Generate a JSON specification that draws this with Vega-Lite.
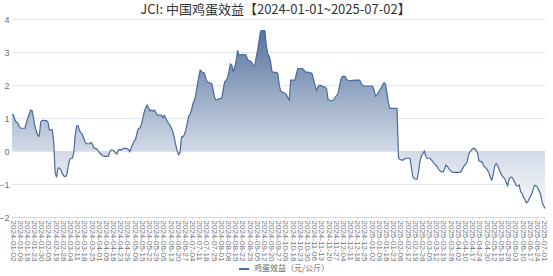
{
"$schema": "https://vega.github.io/schema/vega-lite/v6.json",
"width": 533, "height": 198,
"autosize": "none",
"padding": {"left": 12, "top": 19, "right": 8, "bottom": 59},
"background": "white",
"title": {"text": "JCI: 中国鸡蛋效益【2024-01-01~2025-07-02】", "font": "Noto Sans CJK SC", "fontSize": 13, "fontWeight": "normal", "color": "#333333", "anchor": "middle", "offset": -15, "baseline": "bottom", "dx": -3},
"config": {"view": {"stroke": null}},
"data": {"values": [
{"d":"2024-01-02","v":1.10},{"d":"2024-01-03","v":1.09},{"d":"2024-01-04","v":0.95},{"d":"2024-01-05","v":0.88},{"d":"2024-01-08","v":0.85},
{"d":"2024-01-09","v":0.75},{"d":"2024-01-10","v":0.69},{"d":"2024-01-11","v":0.69},{"d":"2024-01-12","v":0.69},{"d":"2024-01-15","v":0.69},
{"d":"2024-01-16","v":0.85},{"d":"2024-01-17","v":1.00},{"d":"2024-01-18","v":1.12},{"d":"2024-01-19","v":1.24},{"d":"2024-01-22","v":1.22},
{"d":"2024-01-23","v":0.98},{"d":"2024-01-24","v":0.74},{"d":"2024-01-25","v":0.60},{"d":"2024-01-26","v":0.47},{"d":"2024-01-29","v":0.45},
{"d":"2024-01-30","v":0.88},{"d":"2024-01-31","v":0.93},{"d":"2024-02-01","v":0.93},{"d":"2024-02-02","v":0.92},{"d":"2024-02-04","v":0.92},
{"d":"2024-02-05","v":0.88},{"d":"2024-02-06","v":0.64},{"d":"2024-02-07","v":0.64},{"d":"2024-02-08","v":0.64},{"d":"2024-02-18","v":0.30},
{"d":"2024-02-19","v":-0.65},{"d":"2024-02-20","v":-0.80},{"d":"2024-02-21","v":-0.52},{"d":"2024-02-22","v":-0.52},{"d":"2024-02-23","v":-0.57},
{"d":"2024-02-26","v":-0.68},{"d":"2024-02-27","v":-0.75},{"d":"2024-02-28","v":-0.78},{"d":"2024-02-29","v":-0.74},{"d":"2024-03-01","v":-0.50},
{"d":"2024-03-04","v":-0.28},{"d":"2024-03-05","v":-0.22},{"d":"2024-03-06","v":-0.22},{"d":"2024-03-07","v":-0.05},{"d":"2024-03-08","v":0.50},
{"d":"2024-03-11","v":0.76},{"d":"2024-03-12","v":0.77},{"d":"2024-03-13","v":0.62},{"d":"2024-03-14","v":0.55},{"d":"2024-03-15","v":0.50},
{"d":"2024-03-18","v":0.38},{"d":"2024-03-19","v":0.26},{"d":"2024-03-20","v":0.22},{"d":"2024-03-21","v":0.22},{"d":"2024-03-22","v":0.22},
{"d":"2024-03-25","v":0.26},{"d":"2024-03-26","v":0.20},{"d":"2024-03-27","v":0.10},{"d":"2024-03-28","v":0.08},{"d":"2024-03-29","v":0.06},
{"d":"2024-04-01","v":0.00},{"d":"2024-04-02","v":-0.06},{"d":"2024-04-03","v":-0.10},{"d":"2024-04-07","v":-0.14},{"d":"2024-04-08","v":-0.15},
{"d":"2024-04-09","v":-0.16},{"d":"2024-04-10","v":-0.16},{"d":"2024-04-11","v":-0.16},{"d":"2024-04-12","v":-0.04},{"d":"2024-04-15","v":0.03},
{"d":"2024-04-16","v":0.03},{"d":"2024-04-17","v":0.00},{"d":"2024-04-18","v":-0.06},{"d":"2024-04-19","v":-0.09},{"d":"2024-04-22","v":0.03},
{"d":"2024-04-23","v":0.05},{"d":"2024-04-24","v":0.03},{"d":"2024-04-25","v":0.06},{"d":"2024-04-26","v":0.08},{"d":"2024-04-28","v":0.08},
{"d":"2024-04-29","v":0.07},{"d":"2024-04-30","v":0.05},{"d":"2024-05-06","v":-0.02},{"d":"2024-05-07","v":0.10},{"d":"2024-05-08","v":0.20},
{"d":"2024-05-09","v":0.30},{"d":"2024-05-10","v":0.35},{"d":"2024-05-11","v":0.55},{"d":"2024-05-13","v":0.69},{"d":"2024-05-14","v":0.69},
{"d":"2024-05-15","v":0.80},{"d":"2024-05-16","v":0.98},{"d":"2024-05-17","v":1.18},{"d":"2024-05-20","v":1.30},{"d":"2024-05-21","v":1.39},
{"d":"2024-05-22","v":1.32},{"d":"2024-05-23","v":1.22},{"d":"2024-05-24","v":1.24},{"d":"2024-05-27","v":1.22},{"d":"2024-05-28","v":1.24},
{"d":"2024-05-29","v":1.18},{"d":"2024-05-30","v":1.10},{"d":"2024-05-31","v":1.09},{"d":"2024-06-03","v":1.09},{"d":"2024-06-04","v":1.09},
{"d":"2024-06-05","v":1.00},{"d":"2024-06-06","v":1.08},{"d":"2024-06-07","v":1.00},{"d":"2024-06-11","v":0.90},{"d":"2024-06-12","v":0.83},
{"d":"2024-06-13","v":0.78},{"d":"2024-06-14","v":0.69},{"d":"2024-06-17","v":0.58},{"d":"2024-06-18","v":0.40},{"d":"2024-06-19","v":0.18},
{"d":"2024-06-20","v":0.00},{"d":"2024-06-21","v":-0.12},{"d":"2024-06-24","v":-0.05},{"d":"2024-06-25","v":0.43},{"d":"2024-06-26","v":0.43},
{"d":"2024-06-27","v":0.50},{"d":"2024-06-28","v":0.64},{"d":"2024-07-01","v":0.85},{"d":"2024-07-02","v":1.06},{"d":"2024-07-03","v":1.12},
{"d":"2024-07-04","v":1.25},{"d":"2024-07-05","v":1.45},{"d":"2024-07-08","v":1.53},{"d":"2024-07-09","v":1.72},{"d":"2024-07-10","v":2.00},
{"d":"2024-07-11","v":2.25},{"d":"2024-07-12","v":2.45},{"d":"2024-07-15","v":2.40},{"d":"2024-07-16","v":2.38},{"d":"2024-07-17","v":2.35},
{"d":"2024-07-18","v":2.18},{"d":"2024-07-19","v":2.09},{"d":"2024-07-22","v":2.08},{"d":"2024-07-23","v":2.06},{"d":"2024-07-24","v":2.05},
{"d":"2024-07-25","v":1.85},{"d":"2024-07-26","v":1.62},{"d":"2024-07-29","v":1.55},{"d":"2024-07-30","v":1.56},{"d":"2024-07-31","v":1.58},
{"d":"2024-08-01","v":1.59},{"d":"2024-08-02","v":1.60},{"d":"2024-08-05","v":1.85},{"d":"2024-08-06","v":2.10},{"d":"2024-08-07","v":2.14},
{"d":"2024-08-08","v":2.22},{"d":"2024-08-09","v":2.40},{"d":"2024-08-12","v":2.64},{"d":"2024-08-13","v":2.60},{"d":"2024-08-14","v":2.40},
{"d":"2024-08-15","v":2.55},{"d":"2024-08-16","v":2.72},{"d":"2024-08-19","v":3.05},{"d":"2024-08-20","v":2.91},{"d":"2024-08-21","v":2.91},
{"d":"2024-08-22","v":2.92},{"d":"2024-08-23","v":2.92},{"d":"2024-08-26","v":2.92},{"d":"2024-08-27","v":2.90},{"d":"2024-08-28","v":2.76},
{"d":"2024-08-29","v":2.74},{"d":"2024-08-30","v":2.72},{"d":"2024-09-02","v":2.68},{"d":"2024-09-03","v":2.58},{"d":"2024-09-04","v":2.60},
{"d":"2024-09-05","v":2.85},{"d":"2024-09-06","v":3.05},{"d":"2024-09-09","v":3.35},{"d":"2024-09-10","v":3.63},{"d":"2024-09-11","v":3.65},
{"d":"2024-09-12","v":3.65},{"d":"2024-09-13","v":3.65},{"d":"2024-09-14","v":3.20},{"d":"2024-09-18","v":2.95},{"d":"2024-09-19","v":2.88},
{"d":"2024-09-20","v":2.70},{"d":"2024-09-23","v":2.40},{"d":"2024-09-24","v":2.39},{"d":"2024-09-25","v":2.38},{"d":"2024-09-26","v":2.38},
{"d":"2024-09-27","v":2.35},{"d":"2024-09-28","v":2.00},{"d":"2024-09-29","v":1.82},{"d":"2024-09-30","v":1.79},{"d":"2024-10-08","v":1.77},
{"d":"2024-10-09","v":1.75},{"d":"2024-10-10","v":1.71},{"d":"2024-10-11","v":1.62},{"d":"2024-10-14","v":1.55},{"d":"2024-10-15","v":2.15},
{"d":"2024-10-16","v":2.15},{"d":"2024-10-17","v":2.15},{"d":"2024-10-18","v":2.15},{"d":"2024-10-21","v":2.35},{"d":"2024-10-22","v":2.50},
{"d":"2024-10-23","v":2.50},{"d":"2024-10-24","v":2.50},{"d":"2024-10-25","v":2.50},{"d":"2024-10-28","v":2.47},{"d":"2024-10-29","v":2.40},
{"d":"2024-10-30","v":2.39},{"d":"2024-10-31","v":2.39},{"d":"2024-11-01","v":2.38},{"d":"2024-11-04","v":2.37},{"d":"2024-11-05","v":2.33},
{"d":"2024-11-06","v":2.15},{"d":"2024-11-07","v":1.98},{"d":"2024-11-08","v":1.83},{"d":"2024-11-11","v":1.95},{"d":"2024-11-12","v":1.99},
{"d":"2024-11-13","v":1.99},{"d":"2024-11-14","v":1.96},{"d":"2024-11-15","v":1.95},{"d":"2024-11-18","v":1.93},{"d":"2024-11-19","v":1.88},
{"d":"2024-11-20","v":1.56},{"d":"2024-11-21","v":1.54},{"d":"2024-11-22","v":1.52},{"d":"2024-11-25","v":1.53},{"d":"2024-11-26","v":1.55},
{"d":"2024-11-27","v":1.63},{"d":"2024-11-28","v":1.69},{"d":"2024-11-29","v":1.75},{"d":"2024-12-02","v":1.98},{"d":"2024-12-03","v":2.18},
{"d":"2024-12-04","v":2.26},{"d":"2024-12-05","v":2.27},{"d":"2024-12-06","v":2.25},{"d":"2024-12-09","v":2.16},{"d":"2024-12-10","v":2.14},
{"d":"2024-12-11","v":2.13},{"d":"2024-12-12","v":2.13},{"d":"2024-12-13","v":2.14},{"d":"2024-12-16","v":2.14},{"d":"2024-12-17","v":2.15},
{"d":"2024-12-18","v":2.15},{"d":"2024-12-19","v":2.15},{"d":"2024-12-20","v":2.15},{"d":"2024-12-23","v":2.05},{"d":"2024-12-24","v":1.99},
{"d":"2024-12-25","v":1.97},{"d":"2024-12-26","v":1.97},{"d":"2024-12-27","v":1.97},{"d":"2024-12-30","v":1.97},{"d":"2024-12-31","v":1.97},
{"d":"2025-01-02","v":1.97},{"d":"2025-01-03","v":1.96},{"d":"2025-01-06","v":1.85},{"d":"2025-01-07","v":1.66},{"d":"2025-01-08","v":1.70},
{"d":"2025-01-09","v":1.78},{"d":"2025-01-10","v":1.85},{"d":"2025-01-13","v":1.92},{"d":"2025-01-14","v":2.00},{"d":"2025-01-15","v":2.07},
{"d":"2025-01-16","v":2.02},{"d":"2025-01-17","v":1.75},{"d":"2025-01-20","v":1.45},{"d":"2025-01-21","v":1.29},{"d":"2025-01-22","v":1.29},
{"d":"2025-01-23","v":1.29},{"d":"2025-01-24","v":1.29},{"d":"2025-01-26","v":1.29},{"d":"2025-01-27","v":1.29},{"d":"2025-02-05","v":-0.20},
{"d":"2025-02-06","v":-0.26},{"d":"2025-02-07","v":-0.27},{"d":"2025-02-08","v":-0.28},{"d":"2025-02-10","v":-0.25},{"d":"2025-02-11","v":-0.22},
{"d":"2025-02-12","v":-0.22},{"d":"2025-02-13","v":-0.22},{"d":"2025-02-14","v":-0.22},{"d":"2025-02-17","v":-0.50},{"d":"2025-02-18","v":-0.78},
{"d":"2025-02-19","v":-0.84},{"d":"2025-02-20","v":-0.85},{"d":"2025-02-21","v":-0.85},{"d":"2025-02-24","v":-0.62},{"d":"2025-02-25","v":-0.30},
{"d":"2025-02-26","v":-0.16},{"d":"2025-02-27","v":-0.08},{"d":"2025-02-28","v":0.00},{"d":"2025-03-03","v":-0.16},{"d":"2025-03-04","v":-0.22},
{"d":"2025-03-05","v":-0.22},{"d":"2025-03-06","v":-0.22},{"d":"2025-03-07","v":-0.28},{"d":"2025-03-10","v":-0.33},{"d":"2025-03-11","v":-0.39},
{"d":"2025-03-12","v":-0.43},{"d":"2025-03-13","v":-0.48},{"d":"2025-03-14","v":-0.56},{"d":"2025-03-17","v":-0.60},{"d":"2025-03-18","v":-0.63},
{"d":"2025-03-19","v":-0.63},{"d":"2025-03-20","v":-0.56},{"d":"2025-03-21","v":-0.43},{"d":"2025-03-24","v":-0.47},{"d":"2025-03-25","v":-0.53},
{"d":"2025-03-26","v":-0.59},{"d":"2025-03-27","v":-0.63},{"d":"2025-03-28","v":-0.65},{"d":"2025-03-31","v":-0.65},{"d":"2025-04-01","v":-0.65},
{"d":"2025-04-02","v":-0.65},{"d":"2025-04-03","v":-0.65},{"d":"2025-04-07","v":-0.64},{"d":"2025-04-08","v":-0.60},{"d":"2025-04-09","v":-0.50},
{"d":"2025-04-10","v":-0.43},{"d":"2025-04-11","v":-0.39},{"d":"2025-04-14","v":-0.30},{"d":"2025-04-15","v":-0.08},{"d":"2025-04-16","v":-0.02},
{"d":"2025-04-17","v":0.04},{"d":"2025-04-18","v":0.08},{"d":"2025-04-21","v":0.08},{"d":"2025-04-22","v":0.02},{"d":"2025-04-23","v":-0.06},
{"d":"2025-04-24","v":-0.30},{"d":"2025-04-25","v":-0.32},{"d":"2025-04-27","v":-0.32},{"d":"2025-04-28","v":-0.42},{"d":"2025-04-29","v":-0.49},
{"d":"2025-04-30","v":-0.52},{"d":"2025-05-06","v":-0.58},{"d":"2025-05-07","v":-0.67},{"d":"2025-05-08","v":-0.80},{"d":"2025-05-09","v":-0.88},
{"d":"2025-05-12","v":-0.70},{"d":"2025-05-13","v":-0.45},{"d":"2025-05-14","v":-0.38},{"d":"2025-05-15","v":-0.44},{"d":"2025-05-16","v":-0.55},
{"d":"2025-05-19","v":-0.65},{"d":"2025-05-20","v":-0.74},{"d":"2025-05-21","v":-0.79},{"d":"2025-05-22","v":-0.84},{"d":"2025-05-23","v":-0.95},
{"d":"2025-05-26","v":-1.05},{"d":"2025-05-27","v":-0.85},{"d":"2025-05-28","v":-0.80},{"d":"2025-05-29","v":-0.80},{"d":"2025-05-30","v":-0.87},
{"d":"2025-06-03","v":-0.95},{"d":"2025-06-04","v":-1.05},{"d":"2025-06-05","v":-1.06},{"d":"2025-06-06","v":-1.03},{"d":"2025-06-09","v":-1.23},
{"d":"2025-06-10","v":-1.28},{"d":"2025-06-11","v":-1.40},{"d":"2025-06-12","v":-1.46},{"d":"2025-06-13","v":-1.57},{"d":"2025-06-16","v":-1.54},
{"d":"2025-06-17","v":-1.45},{"d":"2025-06-18","v":-1.36},{"d":"2025-06-19","v":-1.28},{"d":"2025-06-20","v":-1.12},{"d":"2025-06-23","v":-1.04},
{"d":"2025-06-24","v":-1.06},{"d":"2025-06-25","v":-1.12},{"d":"2025-06-26","v":-1.22},{"d":"2025-06-27","v":-1.32},{"d":"2025-06-30","v":-1.55},
{"d":"2025-07-01","v":-1.65},{"d":"2025-07-02","v":-1.74}
]},
"encoding": {
 "x": {"field": "d", "type": "ordinal", "scale": {"type": "point", "padding": 0},
  "axis": {"title": null, "values": ["2024-01-02","2024-01-09","2024-01-16","2024-01-23","2024-01-30","2024-02-05","2024-02-19","2024-02-26","2024-03-04","2024-03-11","2024-03-18","2024-03-25","2024-04-01","2024-04-09","2024-04-16","2024-04-23","2024-04-29","2024-05-09","2024-05-15","2024-05-22","2024-05-29","2024-06-05","2024-06-13","2024-06-20","2024-06-27","2024-07-04","2024-07-11","2024-07-18","2024-07-25","2024-08-01","2024-08-08","2024-08-15","2024-08-22","2024-08-29","2024-09-05","2024-09-12","2024-09-20","2024-09-27","2024-10-09","2024-10-16","2024-10-23","2024-10-30","2024-11-06","2024-11-13","2024-11-20","2024-11-27","2024-12-04","2024-12-11","2024-12-18","2024-12-25","2025-01-02","2025-01-09","2025-01-16","2025-01-23","2025-02-06","2025-02-12","2025-02-19","2025-02-26","2025-03-05","2025-03-12","2025-03-19","2025-03-26","2025-04-02","2025-04-10","2025-04-17","2025-04-24","2025-04-30","2025-05-12","2025-05-19","2025-05-26","2025-06-03","2025-06-10","2025-06-17","2025-06-24","2025-07-01"],
   "labelAngle": 90, "labelFont": "Liberation Sans", "labelFontSize": 8, "labelColor": "#6e7079", "labelPadding": 1, "labelOverlap": false, "labelBound": false,
   "domainColor": "#d6dbe3", "tickColor": "#d6dbe3", "tickSize": 2, "grid": false}},
 "y": {"field": "v", "type": "quantitative", "scale": {"domain": [-2, 4], "nice": false},
  "axis": {"title": null, "values": [-2,-1,0,1,2,3,4], "domain": false, "ticks": false, "labelPadding": 3,
   "labelFont": "Liberation Sans", "labelFontSize": 9, "labelColor": "#6e7079", "grid": true, "gridColor": "#e0e6f1"}}
},
"layer": [
 {"mark": {"type": "area", "color": {"gradient": "linear", "x1": 0, "y1": 0, "x2": 0, "y2": 1,
   "stops": [{"offset": 0, "color": "#56739f"}, {"offset": 0.68, "color": "#d3dbe7"}, {"offset": 1, "color": "#f8f9fb"}]}},
  "encoding": {"y2": {"datum": 0}}},
 {"mark": {"type": "line", "strokeWidth": 1.2},
  "encoding": {"stroke": {"datum": "鸡蛋效益（元/公斤）", "type": "nominal", "scale": {"range": ["#4b6a9b"]},
   "legend": {"orient": "none", "legendX": 226, "legendY": 244, "title": null, "symbolType": "stroke", "symbolStrokeWidth": 2, "symbolSize": 100,
    "labelFont": "Noto Sans CJK SC", "labelFontSize": 8, "labelColor": "#666666"}}}}
]
}
